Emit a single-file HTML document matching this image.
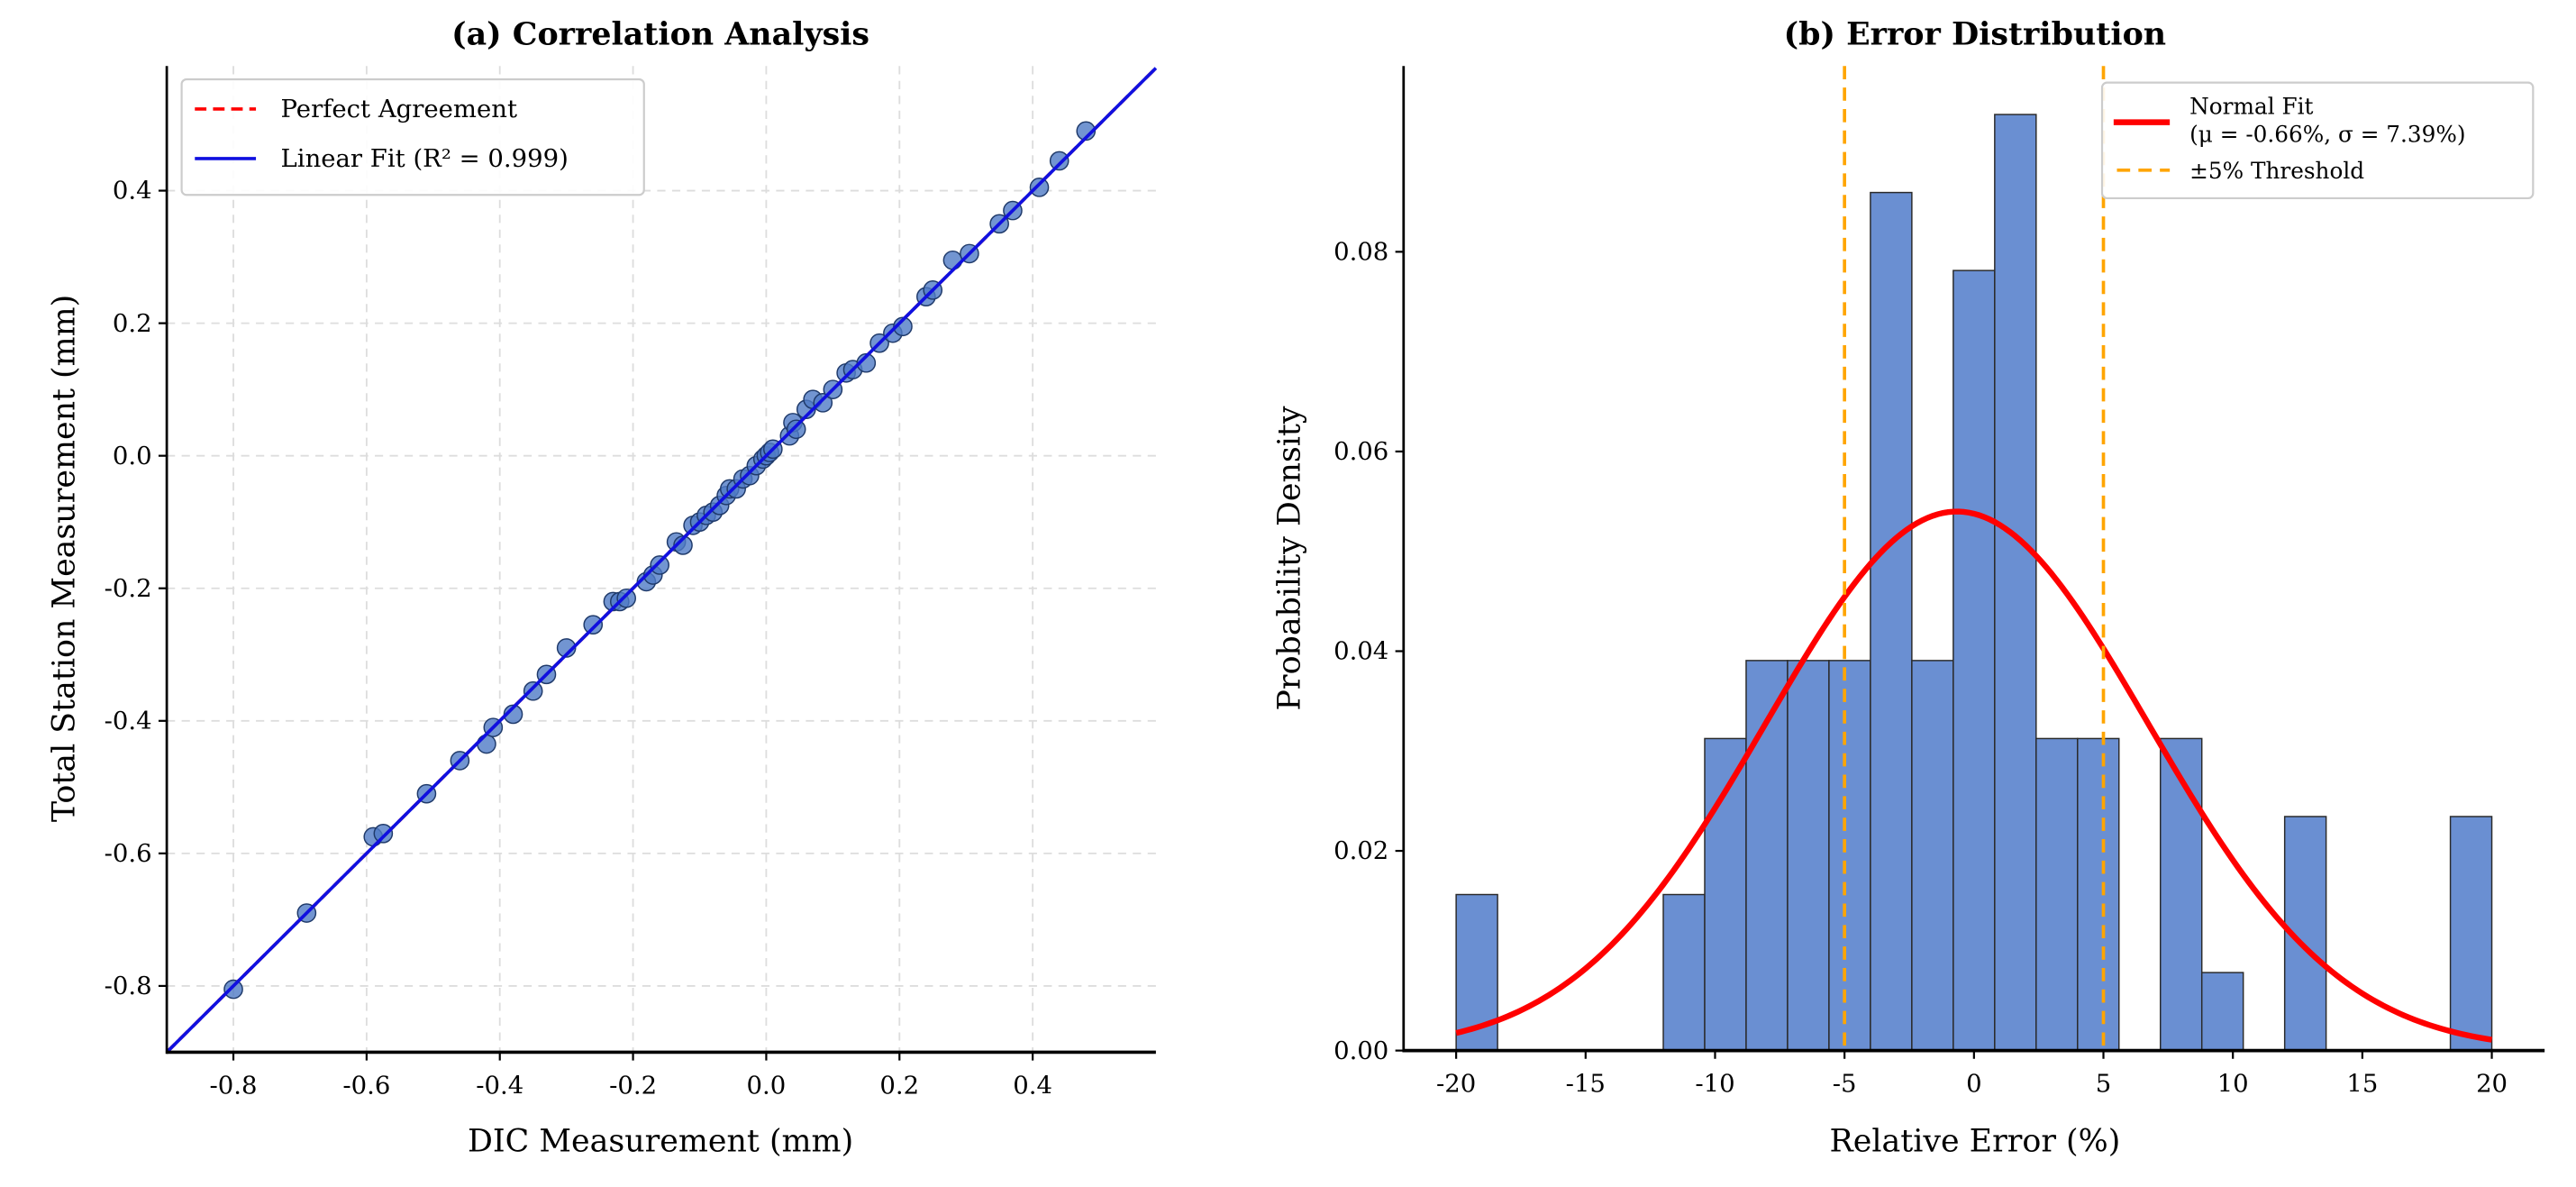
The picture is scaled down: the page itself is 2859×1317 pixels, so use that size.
<!DOCTYPE html>
<html><head><meta charset="utf-8"><style>
html,body{margin:0;padding:0;background:#fff;overflow:hidden}
svg{display:block;font-family:"DejaVu Serif","Liberation Serif",serif}
</style></head><body>
<svg id="fig" width="2859" height="1317" viewBox="0 0 1560 718.6" preserveAspectRatio="none" xmlns="http://www.w3.org/2000/svg">
<rect width="1560" height="718.6" fill="#fff"/>
<g id="pa"></g>
<g id="pb"></g>
</svg>
<script>
// Panel (a) data
const dicX = [-0.80,-0.69,-0.59,-0.575,-0.51,-0.46,-0.42,-0.41,-0.38,-0.35,-0.33,-0.30,-0.26,-0.23,-0.22,-0.21,-0.18,-0.17,-0.16,-0.135,-0.125,-0.11,-0.10,-0.09,-0.08,-0.07,-0.06,-0.055,-0.045,-0.035,-0.025,-0.015,-0.005,0.0,0.005,0.01,0.035,0.04,0.045,0.06,0.07,0.085,0.10,0.12,0.13,0.15,0.17,0.19,0.205,0.24,0.25,0.28,0.305,0.35,0.37,0.41,0.44,0.48];
const tsY = [-0.805,-0.69,-0.575,-0.57,-0.51,-0.46,-0.435,-0.41,-0.39,-0.355,-0.33,-0.29,-0.255,-0.22,-0.22,-0.215,-0.19,-0.18,-0.165,-0.13,-0.135,-0.105,-0.10,-0.09,-0.085,-0.075,-0.06,-0.05,-0.05,-0.035,-0.03,-0.015,-0.005,0.0,0.005,0.01,0.03,0.05,0.04,0.07,0.085,0.08,0.10,0.125,0.13,0.14,0.17,0.185,0.195,0.24,0.25,0.295,0.305,0.35,0.37,0.405,0.445,0.49];
const ticksA = [-0.8,-0.6,-0.4,-0.2,0.0,0.2,0.4];
const fitSlope = [1.0];
const fitIntercept = [0.0];
// Panel (b) data
const binEdges = [-20,-18.4,-16.8,-15.2,-13.6,-12,-10.4,-8.8,-7.2,-5.6,-4,-2.4,-0.8,0.8,2.4,4,5.6,7.2,8.8,10.4,12,13.6,15.2,16.8,18.4,20];
const binCounts = [2,0,0,0,0,2,4,5,5,5,11,5,10,12,4,4,0,4,1,0,3,0,0,0,3];
const nSamples = [80];
const fitMu = [-0.66];
const fitSigma = [7.39];
const thresholds = [-5,5];
const ticksBX = [-20,-15,-10,-5,0,5,10,15,20];
const ticksBY = [0.00,0.02,0.04,0.06,0.08];

const NS="http://www.w3.org/2000/svg";
function mk(p,tag,at,txt){const e=document.createElementNS(NS,tag);for(const k in at)e.setAttribute(k,at[k]);if(txt!==undefined)e.textContent=txt;p.appendChild(e);return e;}

// ---- Panel A ----
const A={l:101,r:700,t:40,b:637,x0:-0.9,x1:0.585,y0:-0.9,y1:0.588};
const ax=v=>A.l+(v-A.x0)/(A.x1-A.x0)*(A.r-A.l);
const ay=v=>A.b-(v-A.y0)/(A.y1-A.y0)*(A.b-A.t);
const pa=document.getElementById('pa');
ticksA.forEach(t=>{
  let g=mk(pa,'line',{x1:ax(t),x2:ax(t),y1:A.t,y2:A.b,stroke:'#ddd','stroke-width':1,'stroke-dasharray':'5,4'});
  
  
  g=mk(pa,'line',{x1:A.l,x2:A.r,y1:ay(t),y2:ay(t),stroke:'#ddd','stroke-width':1,'stroke-dasharray':'5,4'});
  
  
});
let perf=mk(pa,'line',{x1:ax(A.x0),y1:ay(A.x0),x2:ax(A.x1),y2:ay(A.x1),stroke:'#f00','stroke-width':2,'stroke-dasharray':'7,4'});


dicX.forEach((x,i)=>{
  const c=mk(pa,'circle',{cx:ax(x),cy:ay(tsY[i]),r:5.5,fill:'#4f7bc6','fill-opacity':0.8,stroke:'#1f3a6a','stroke-width':0.8});
  
  
});
const fx0=A.x0,fx1=A.x1;
let fit=mk(pa,'line',{x1:ax(fx0),y1:ay(fitSlope[0]*fx0+fitIntercept[0]),x2:ax(fx1),y2:ay(fitSlope[0]*fx1+fitIntercept[0]),stroke:'#1010e0','stroke-width':2});


mk(pa,'line',{x1:A.l,x2:A.l,y1:A.t,y2:A.b+1,stroke:'#000','stroke-width':1.5});
mk(pa,'line',{x1:A.l,x2:A.r,y1:A.b,y2:A.b,stroke:'#000','stroke-width':2});
ticksA.forEach(t=>{
  mk(pa,'line',{x1:ax(t),x2:ax(t),y1:A.b,y2:A.b+5,stroke:'#000','stroke-width':1.2});
  let lx=mk(pa,'text',{x:ax(t),y:A.b+25,'text-anchor':'middle','font-size':15},t.toFixed(1));
  
  
  mk(pa,'line',{x1:A.l-5,x2:A.l,y1:ay(t),y2:ay(t),stroke:'#000','stroke-width':1.2});
  let ly=mk(pa,'text',{x:A.l-9,y:ay(t)+5,'text-anchor':'end','font-size':15},t.toFixed(1));
  
  
});
// ---- Panel B ----
const B={l:850,r:1541,t:40,b:636,x0:-22.03,x1:22.04,y0:0,y1:0.0986};
const bx=v=>B.l+(v-B.x0)/(B.x1-B.x0)*(B.r-B.l);
const by=v=>B.b-(v-B.y0)/(B.y1-B.y0)*(B.b-B.t);
const pb=document.getElementById('pb');
binCounts.forEach((c,i)=>{
  if(c===0)return;
  const d=c/(nSamples[0]*(binEdges[i+1]-binEdges[i]));
  const r=mk(pb,'rect',{x:bx(binEdges[i]),y:by(d),width:bx(binEdges[i+1])-bx(binEdges[i]),height:by(0)-by(d),fill:'#6a8fd2',stroke:'#2a2a2a','stroke-width':0.8});
  
  
});
let pts=[];
for(let i=0;i<=200;i++){const x=-20+40*i/200;const s=fitSigma[0],m=fitMu[0];const y=Math.exp(-0.5*((x-m)/s)**2)/(s*Math.sqrt(2*Math.PI));pts.push(bx(x).toFixed(2)+','+by(y).toFixed(2));}
let nc=mk(pb,'polyline',{points:pts.join(' '),fill:'none',stroke:'#f00','stroke-width':3.5});


thresholds.forEach(t=>{
  const l=mk(pb,'line',{x1:bx(t),x2:bx(t),y1:B.t,y2:B.b,stroke:'#ffa500','stroke-width':2,'stroke-dasharray':'8,5'});
  
  
});
mk(pb,'line',{x1:B.l,x2:B.l,y1:B.t,y2:B.b+1,stroke:'#000','stroke-width':1.5});
mk(pb,'line',{x1:B.l,x2:B.r,y1:B.b,y2:B.b,stroke:'#000','stroke-width':2});
ticksBX.forEach(t=>{
  mk(pb,'line',{x1:bx(t),x2:bx(t),y1:B.b,y2:B.b+5,stroke:'#000','stroke-width':1.2});
  let lx=mk(pb,'text',{x:bx(t),y:B.b+25,'text-anchor':'middle','font-size':15},String(t));
  
  
});
ticksBY.forEach(t=>{
  mk(pb,'line',{x1:B.l-5,x2:B.l,y1:by(t),y2:by(t),stroke:'#000','stroke-width':1.2});
  let ly=mk(pb,'text',{x:B.l-9,y:by(t)+5,'text-anchor':'end','font-size':15},t.toFixed(2));
  
  
});
</script>
<script>
const fig=document.getElementById('fig');
fig.insertAdjacentHTML('beforeend',`
<text x="400" y="27" text-anchor="middle" font-size="19" font-weight="bold">(a) Correlation Analysis</text>
<text x="1196" y="27" text-anchor="middle" font-size="19" font-weight="bold">(b) Error Distribution</text>
<text x="400" y="697" text-anchor="middle" font-size="19">DIC Measurement (mm)</text>
<text x="1196" y="697" text-anchor="middle" font-size="19">Relative Error (%)</text>
<text transform="translate(45,338) rotate(-90)" text-anchor="middle" font-size="19">Total Station Measurement (mm)</text>
<text transform="translate(787,338) rotate(-90)" text-anchor="middle" font-size="19">Probability Density</text>
<g>
<rect x="110" y="48" width="280" height="70" rx="3" fill="#fff" fill-opacity="0.9" stroke="#ccc" stroke-width="1.2"/>
<line x1="118" y1="66" x2="155" y2="66" stroke="#f00" stroke-width="2" stroke-dasharray="7,4"/>
<text x="170" y="71" font-size="15">Perfect Agreement</text>
<line x1="118" y1="96" x2="155" y2="96" stroke="#1010e0" stroke-width="2"/>
<text x="170" y="101" font-size="15">Linear Fit (R² = 0.999)</text>
</g>
<g>
<rect x="1273" y="50" width="261" height="70" rx="3" fill="#fff" fill-opacity="0.9" stroke="#ccc" stroke-width="1.2"/>
<line x1="1280" y1="74" x2="1314" y2="74" stroke="#f00" stroke-width="3.5"/>
<text x="1326" y="69" font-size="13.5">Normal Fit</text>
<text x="1326" y="86" font-size="13.5">(μ = -0.66%, σ = 7.39%)</text>
<line x1="1282" y1="103" x2="1314" y2="103" stroke="#ffa500" stroke-width="2" stroke-dasharray="8,5"/>
<text x="1326" y="108" font-size="13.5">±5% Threshold</text>
</g>`);
</script>
</body></html>
